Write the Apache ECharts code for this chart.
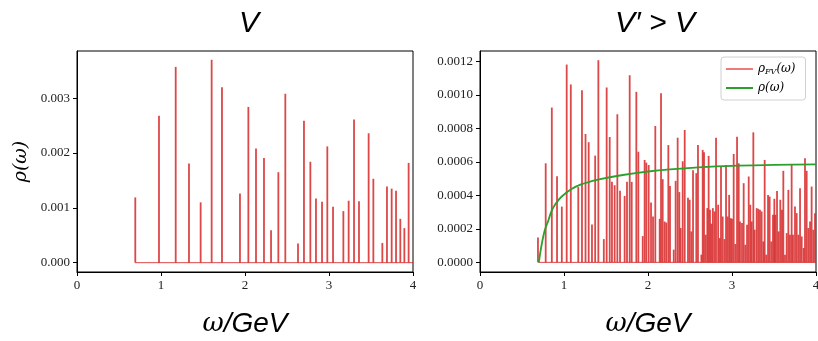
<!DOCTYPE html>
<html>
<head>
<meta charset="utf-8">
<script src="https://cdn.jsdelivr.net/npm/echarts@6/dist/echarts.min.js"></script>
<style>
  html, body { margin: 0; padding: 0; background: #fff; }
  #chart { width: 818px; height: 341px; }
</style>
</head>
<body>
<div id="chart"></div>
<script>
// left panel (V): spike positions and heights
const leftX = [0.694, 0.976, 1.175, 1.333, 1.472, 1.603, 1.726, 1.940, 2.040, 2.131, 2.226, 2.310,
  2.397, 2.480, 2.631, 2.702, 2.778, 2.845, 2.917, 2.980, 3.048, 3.171, 3.234, 3.298, 3.357, 3.472,
  3.528, 3.635, 3.690, 3.746, 3.798, 3.849, 3.897, 3.948];
const leftV = [0.00119, 0.00268, 0.00357, 0.00181, 0.00110, 0.00370, 0.00320, 0.00126, 0.00284, 0.00208,
  0.00191, 0.00059, 0.00165, 0.00308, 0.00035, 0.00259, 0.00184, 0.00117, 0.00111, 0.00212, 0.00102,
  0.00094, 0.00113, 0.00261, 0.00112, 0.00236, 0.00153, 0.00036, 0.00139, 0.00135, 0.00131, 0.00080,
  0.00063, 0.00182];

// right panel (V' > V): finite-volume spikes
const rightX = [0.690, 0.782, 0.855, 0.917, 0.974, 1.032, 1.081, 1.170, 1.214, 1.256, 1.294, 1.333,
  1.371, 1.409, 1.474, 1.508, 1.544, 1.571, 1.603, 1.635, 1.667, 1.722, 1.750, 1.782, 1.806, 1.861,
  1.885, 1.937, 1.960, 1.980, 2.008, 2.036, 2.060, 2.087, 2.139, 2.155, 2.175, 2.198, 2.218, 2.242,
  2.262, 2.306, 2.329, 2.353, 2.373, 2.389, 2.413, 2.437, 2.476, 2.496, 2.516, 2.536, 2.575, 2.595,
  2.635, 2.651, 2.667, 2.687, 2.706, 2.722, 2.738, 2.754, 2.772, 2.792, 2.810, 2.835, 2.853, 2.869,
  2.889, 2.910, 2.929, 2.948, 2.966, 2.984, 3.000, 3.020, 3.040, 3.060, 3.080, 3.095, 3.119, 3.139,
  3.159, 3.179, 3.199, 3.218, 3.234, 3.254, 3.270, 3.294, 3.313, 3.333, 3.353, 3.373, 3.389, 3.408,
  3.429, 3.448, 3.468, 3.488, 3.504, 3.516, 3.536, 3.556, 3.575, 3.595, 3.611, 3.631, 3.651, 3.671,
  3.690, 3.710, 3.726, 3.750, 3.770, 3.790, 3.810, 3.830, 3.853, 3.869, 3.889, 3.909, 3.929, 3.948,
  3.968, 3.988];
const rightV = [0.000149, 0.000592, 0.000925, 0.000515, 0.000333, 0.001182, 0.001063, 0.000450, 0.001029,
  0.000767, 0.000718, 0.000226, 0.000638, 0.001208, 0.000139, 0.001045, 0.000749, 0.000481, 0.000461,
  0.000885, 0.000428, 0.000397, 0.000481, 0.001118, 0.000481, 0.001019, 0.000661, 0.000157, 0.000612,
  0.000596, 0.000582, 0.000358, 0.000274, 0.000815, 0.000260, 0.001010, 0.000497, 0.000244, 0.000238,
  0.000701, 0.000457, 0.000076, 0.000487, 0.000745, 0.000420, 0.000205, 0.000604, 0.000791, 0.000386,
  0.000374, 0.000185, 0.000550, 0.000533, 0.000701, 0.000046, 0.000672, 0.000658, 0.000165, 0.000324,
  0.000636, 0.000314, 0.000231, 0.000324, 0.000304, 0.000745, 0.000344, 0.000145, 0.000572, 0.000274,
  0.000139, 0.000582, 0.000274, 0.000403, 0.000264, 0.000260, 0.000648, 0.000110, 0.000751, 0.000592,
  0.000244, 0.000235, 0.000473, 0.000105, 0.000225, 0.000513, 0.000344, 0.000244, 0.000777, 0.000195,
  0.000324, 0.000320, 0.000314, 0.000304, 0.000125, 0.000612, 0.000046, 0.000403, 0.000393, 0.000125,
  0.000284, 0.000380, 0.000284, 0.000427, 0.000185, 0.000374, 0.000314, 0.000547, 0.000046, 0.000175,
  0.000433, 0.000165, 0.000588, 0.000165, 0.000334, 0.000294, 0.000165, 0.000443, 0.000155, 0.000086,
  0.000622, 0.000547, 0.000205, 0.000244, 0.000453, 0.000195, 0.000294];

// infinite-volume density rho(omega)
const rhoX = [0.70, 0.73, 0.77, 0.81, 0.85, 0.90, 0.97, 1.09, 1.21, 1.33, 1.43, 1.70, 2.00, 2.26, 2.60, 3.00, 3.50, 4.00];
const rhoV = [0, 0.000095, 0.00019, 0.000245, 0.000305, 0.00035, 0.000392, 0.000438, 0.000467, 0.000485,
  0.000498, 0.000522, 0.000543, 0.000556, 0.000568, 0.000577, 0.000582, 0.000586];

// baseline at zero from threshold to the end of the axis
const baseX = [0.694, 4];

const leftYTicks = [0, 0.001, 0.002, 0.003];
const rightYTicks = [0, 0.0002, 0.0004, 0.0006, 0.0008, 0.0010, 0.0012];

const SPIKE = 'rgba(214,39,40,0.85)';
const GREEN = '#2ca02c';
const TICK_FONT = 'Liberation Serif';

const chart = echarts.init(document.getElementById('chart'), null, { renderer: 'canvas' });

function spikeItem(params, api) {
  const p0 = api.coord([api.value(0), 0]);
  const p1 = api.coord([api.value(0), api.value(1)]);
  return {
    type: 'line',
    shape: { x1: p0[0], y1: p0[1], x2: p1[0], y2: p1[1] },
    style: { stroke: SPIKE, lineWidth: 1.8 }
  };
}

function xAxisFor(gridIndex) {
  return {
    type: 'value', gridIndex, min: 0, max: 4, interval: 1,
    axisLine: { show: true, onZero: false, lineStyle: { color: '#000', width: 1 } },
    axisTick: { show: true, length: 4, lineStyle: { color: '#000' } },
    axisLabel: { color: '#222', fontFamily: TICK_FONT, fontSize: 13, margin: 7 },
    splitLine: { show: false },
    name: '{w|ω}{g|/GeV}',
    nameLocation: 'middle',
    nameGap: 38,
    nameTextStyle: {
      rich: {
        w: { fontFamily: 'DejaVu Serif', fontStyle: 'italic', fontSize: 26, color: '#000' },
        g: { fontFamily: 'Liberation Sans', fontStyle: 'italic', fontSize: 28, color: '#000' }
      }
    }
  };
}

function yAxisFor(gridIndex, min, max, ticks, digits) {
  return {
    type: 'value', gridIndex, min, max,
    axisLine: { show: true, lineStyle: { color: '#000', width: 1 } },
    axisTick: { show: true, length: 4, customValues: ticks, lineStyle: { color: '#000' } },
    axisLabel: {
      customValues: ticks,
      color: '#222', fontFamily: TICK_FONT, fontSize: 13, margin: 7,
      formatter: v => v.toFixed(digits)
    },
    splitLine: { show: false }
  };
}

const leftY = yAxisFor(0, -0.00017, 0.00386, leftYTicks, 3);
leftY.name = 'ρ(ω)';
leftY.nameLocation = 'middle';
leftY.nameGap = 46;
leftY.nameTextStyle = { fontFamily: 'DejaVu Serif', fontStyle: 'italic', fontSize: 19, color: '#000' };

const option = {
  backgroundColor: '#fff',
  animation: false,
  title: [
    { text: 'V', left: 244, top: 4, textAlign: 'center',
      textStyle: { fontFamily: 'Liberation Sans', fontStyle: 'italic', fontWeight: 'normal', fontSize: 30, color: '#000' } },
    { text: 'V′ > V', left: 650, top: 4, textAlign: 'center',
      textStyle: { fontFamily: 'Liberation Sans', fontStyle: 'italic', fontWeight: 'normal', fontSize: 30, color: '#000' } }
  ],
  grid: [
    { left: 77, top: 51, width: 336, height: 221, outerBoundsMode: 'none', containLabel: false,
      show: true, borderColor: '#000', borderWidth: 1, backgroundColor: 'transparent' },
    { left: 480, top: 51, width: 336, height: 221, outerBoundsMode: 'none', containLabel: false,
      show: true, borderColor: '#000', borderWidth: 1, backgroundColor: 'transparent' }
  ],
  xAxis: [xAxisFor(0), xAxisFor(1)],
  yAxis: [leftY, yAxisFor(1, -0.0000576, 0.001263, rightYTicks, 4)],
  legend: {
    left: 721, top: 57,
    orient: 'vertical',
    padding: [6, 10, 6, 5],
    itemGap: 6,
    itemWidth: 27, itemHeight: 2,
    borderColor: '#d0d0d0', borderWidth: 1, borderRadius: 3,
    backgroundColor: 'rgba(255,255,255,0.85)',
    formatter: name => name === 'fv' ? '{r|ρ}{s|FV}{r|(ω)}' : '{r|ρ(ω)}',
    textStyle: {
      rich: {
        r: { fontFamily: 'DejaVu Serif', fontStyle: 'italic', fontSize: 12, color: '#000' },
        s: { fontFamily: 'DejaVu Serif', fontStyle: 'italic', fontSize: 8, color: '#000', padding: [6, 0, 0, 0] }
      }
    },
    data: [
      { name: 'fv', icon: 'rect', itemStyle: { color: '#f07a7a' } },
      { name: 'rho', icon: 'rect', itemStyle: { color: GREEN } }
    ]
  },
  series: [
    { type: 'line', xAxisIndex: 0, yAxisIndex: 0, data: baseX.map(x => [x, 0]), symbol: 'none',
      lineStyle: { color: SPIKE, width: 1 }, silent: true },
    { type: 'custom', xAxisIndex: 0, yAxisIndex: 0, renderItem: spikeItem,
      data: leftX.map((x, i) => [x, leftV[i]]), silent: true },
    { type: 'line', xAxisIndex: 1, yAxisIndex: 1, data: baseX.map(x => [x, 0]), symbol: 'none',
      lineStyle: { color: SPIKE, width: 1 }, silent: true },
    { name: 'fv', type: 'custom', xAxisIndex: 1, yAxisIndex: 1, renderItem: spikeItem,
      itemStyle: { color: '#f07a7a' },
      data: rightX.map((x, i) => [x, rightV[i]]), silent: true },
    { name: 'rho', type: 'line', xAxisIndex: 1, yAxisIndex: 1, smooth: 0.3, symbol: 'none',
      data: rhoX.map((x, i) => [x, rhoV[i]]),
      lineStyle: { color: GREEN, width: 1.8 }, itemStyle: { color: GREEN }, silent: true }
  ]
};

chart.setOption(option);
</script>
</body>
</html>
